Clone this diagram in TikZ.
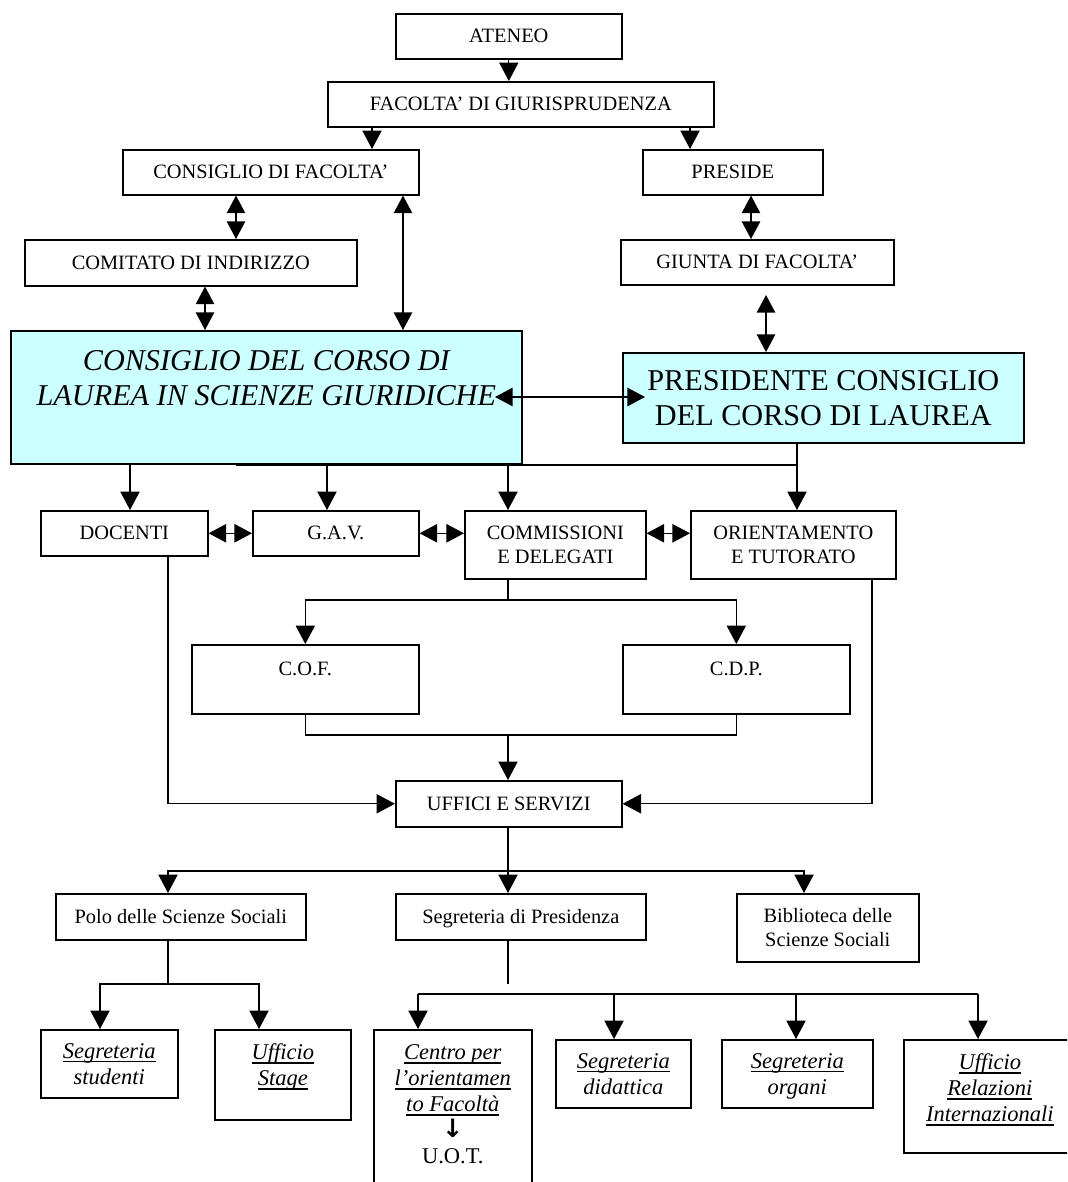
\documentclass[tikz,border=0pt]{standalone}
\usepackage{fontspec}
\setmainfont{Liberation Serif}
\newfontfamily\symfont{DejaVu Sans}
\usetikzlibrary{arrows.meta}
\definecolor{paleblue}{HTML}{CCFFFF}
\newcommand{\uln}[1]{\setbox0\hbox{#1}\leavevmode\rlap{\vrule height -1.8pt depth 2.7pt width \wd0}\box0}

\begin{document}
\begin{tikzpicture}[x=0.025cm, y=-0.025cm]
        \tikzstyle{box} = [rectangle, draw=black, line width=1.1pt, fill=white, inner sep=0pt, anchor=north west, align=center, text height=0.325cm, text depth=0pt, font=\fontsize{14.5}{17}\selectfont]
        \tikzstyle{twoline} = [box, text height=0.925cm]
        \tikzstyle{main} = [box, fill=paleblue, text height=1.37cm, font=\fontsize{21.5}{25}\selectfont]
        \tikzstyle{office} = [box, text height=1.025cm, font=\fontsize{16}{18.5}\selectfont\itshape]
        \tikzstyle{arr} = [line width=0.9pt, -{Triangle[length=0.46cm, width=0.48cm]}]
        \tikzstyle{dbl} = [line width=0.9pt, {Triangle[length=0.44cm, width=0.46cm]}-{Triangle[length=0.44cm, width=0.46cm]}]
        \tikzstyle{link} = [line width=0.9pt]

        \useasboundingbox (0,0) rectangle (1067,1182);
        \clip (0,0) rectangle (1067,1182);

        \node (ateneo) [box, minimum width=5.65cm, minimum height=1.125cm] at (395,13) {ATENEO};
        \node (facolta) [box, minimum width=9.65cm, minimum height=1.125cm] at (327,81) {FACOLTA’ DI GIURISPRUDENZA};
        \node (consfac) [box, minimum width=7.4cm, minimum height=1.125cm] at (122,149) {CONSIGLIO DI FACOLTA’};
        \node (preside) [box, minimum width=4.5cm, minimum height=1.125cm] at (642,149) {PRESIDE};
        \node (comitato) [box, minimum width=8.3cm, minimum height=1.15cm] at (24,239) {COMITATO DI INDIRIZZO};
        \node (giunta) [box, minimum width=6.825cm, minimum height=1.125cm] at (620,239) {GIUNTA DI FACOLTA’};
        \node (corso) [main, font=\fontsize{21.5}{25}\selectfont\itshape, text height=1.379cm, text depth=0.946cm, minimum width=12.775cm, minimum height=3.325cm] at (10,330) {CONSIGLIO DEL CORSO DI\\LAUREA IN SCIENZE GIURIDICHE};
        \node (presidente) [main, minimum width=10.025cm, minimum height=2.25cm] at (622,352) {PRESIDENTE CONSIGLIO\\DEL CORSO DI LAUREA};
        \node (docenti) [box, minimum width=4.175cm, minimum height=1.125cm] at (40,510) {DOCENTI};
        \node (gav) [box, minimum width=4.15cm, minimum height=1.125cm] at (252,510) {G.A.V.};
        \node (commissioni) [twoline, minimum width=4.525cm, minimum height=1.7cm] at (464,510) {COMMISSIONI\\E DELEGATI};
        \node (orientamento) [twoline, minimum width=5.125cm, minimum height=1.7cm] at (690,510) {ORIENTAMENTO\\E TUTORATO};
        \node (cof) [box, text depth=0.525cm, minimum width=5.675cm, minimum height=1.725cm] at (191,644) {C.O.F.};
        \node (cdp) [box, text depth=0.525cm, minimum width=5.675cm, minimum height=1.725cm] at (622,644) {C.D.P.};
        \node (uffici) [box, minimum width=5.65cm, minimum height=1.15cm] at (395,780) {UFFICI E SERVIZI};
        \node (polo) [box, minimum width=6.25cm, minimum height=1.15cm] at (55,893) {Polo delle Scienze Sociali};
        \node (segpres) [box, minimum width=6.25cm, minimum height=1.15cm] at (395,893) {Segreteria di Presidenza};
        \node (biblioteca) [twoline, minimum width=4.55cm, minimum height=1.7cm] at (736,893) {Biblioteca delle\\Scienze Sociali};
        \node (segstud) [office, minimum width=3.425cm, minimum height=1.7cm] at (40,1029) {\uln{Segreteria}\\studenti};
        \node (stage) [office, text depth=0.475cm, minimum width=3.4cm, minimum height=2.25cm] at (214,1029) {\uln{Ufficio}\\\uln{Stage}};
        \node (centro) [office, text height=2.975cm, text depth=0.55cm, minimum width=3.95cm, minimum height=4.275cm] at (373,1029) {\uln{Centro per}\\\uln{l’orientamen}\\\uln{to Facoltà}\\{\symfont\bfseries\fontsize{18}{18.5}\selectfont ↓}\\\upshape U.O.T.};
        \node (didattica) [office, minimum width=3.375cm, minimum height=1.7cm] at (555,1039) {\uln{Segreteria}\\didattica};
        \node (organi) [office, minimum width=3.775cm, minimum height=1.7cm] at (721,1039) {\uln{Segreteria}\\organi};
        \node (relazioni) [office, text height=1.675cm, text depth=0.4cm, minimum width=4.3cm, minimum height=2.825cm] at (903,1039) {\uln{Ufficio}\\\uln{Relazioni}\\\uln{Internazionali}};

        \coordinate (gj) at (766,295);
        \coordinate (cl) at (495,397);
        \coordinate (pr) at (645,397);
        \coordinate (bus) at (236,465);
        \coordinate (cm) at (508,600);
        \coordinate (cj) at (508,735);
        \coordinate (uf) at (508,871);
        \coordinate (pl) at (168,984);
        \coordinate (sp) at (508,984);
        \coordinate (sb) at (418,994);

        \draw [arr] (ateneo.south) -- (ateneo.south |- facolta.north);
        \draw [arr] (372,0 |- facolta.south) -- (372,0 |- consfac.north);
        \draw [arr] (690,0 |- facolta.south) -- (690,0 |- preside.north);
        \draw [dbl] (236,0 |- consfac.south) -- (236,0 |- comitato.north);
        \draw [dbl] (751,0 |- preside.south) -- (751,0 |- giunta.north);
        \draw [dbl] (205,0 |- comitato.south) -- (205,0 |- corso.north);
        \draw [dbl] (403,0 |- consfac.south) -- (403,0 |- corso.north);
        \draw [dbl] (gj) -- (gj |- presidente.north);
        \draw [dbl] (cl) -- (pr);

        \draw [link] (bus) -- (797,465);
        \draw [arr] (797,0 |- presidente.south) -- (797,0 |- orientamento.north);
        \draw [arr] (130,0 |- corso.south) -- (130,0 |- docenti.north);
        \draw [arr] (327,0 |- corso.south) -- (327,0 |- gav.north);
        \draw [arr] (508,0 |- corso.south) -- (508,0 |- commissioni.north);
        \draw [dbl] (docenti.east) -- (gav.west);
        \draw [dbl] (gav.east) -- (gav.east -| commissioni.west);
        \draw [dbl] (gav.east -| commissioni.east) -- (gav.east -| orientamento.west);

        \draw [arr] (168,0 |- docenti.south) |- (uffici.west);
        \draw [arr] (872,0 |- orientamento.south) |- (uffici.east);
        \draw [link] (508,0 |- commissioni.south) -- (cm);
        \draw [arr] (cm) -| (cof.north);
        \draw [arr] (cm) -| (cdp.north);
        \draw [link] (cof.south) |- (cj) -| (cdp.south);
        \draw [arr] (cj) -- (cj |- uffici.north);

        \draw [link] (cj |- uffici.south) -- (uf);
        \draw [arr] (uf) -| (168,0 |- polo.north);
        \draw [arr] (uf) -- (508,0 |- segpres.north);
        \draw [arr] (uf) -| (804,0 |- biblioteca.north);
        \draw [link] (168,0 |- polo.south) -- (pl);
        \draw [arr] (pl) -| (100,0 |- segstud.north);
        \draw [arr] (pl) -| (259,0 |- stage.north);
        \draw [link] (508,0 |- segpres.south) -- (sp);
        \draw [link] (sb) -- (978,994);
        \draw [arr] (sb) -- (418,0 |- centro.north);
        \draw [arr] (614,994) -- (614,0 |- didattica.north);
        \draw [arr] (796,994) -- (796,0 |- organi.north);
        \draw [arr] (978,994) -- (978,0 |- relazioni.north);
    \end{tikzpicture}
\end{document}
